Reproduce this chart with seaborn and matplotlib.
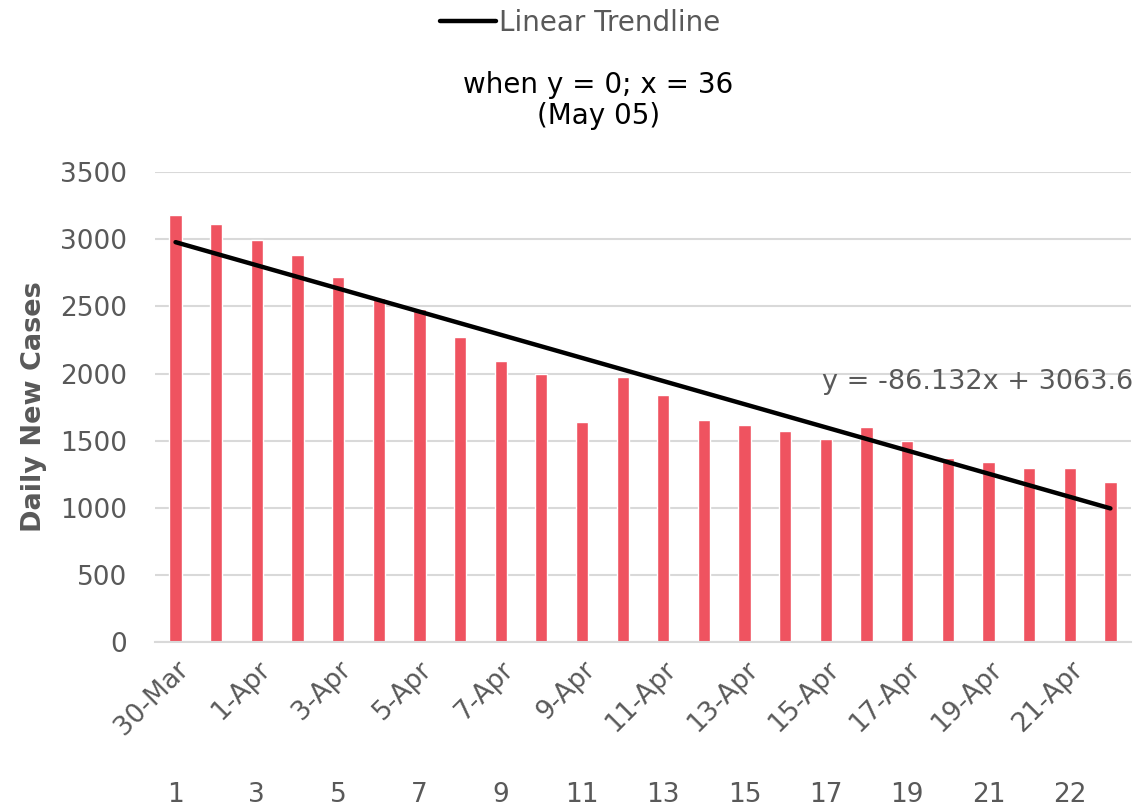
import pandas as pd
import seaborn as sns
import matplotlib.pyplot as plt
from matplotlib.transforms import blended_transform_factory

dates = ['30-Mar', '31-Mar', '1-Apr', '2-Apr', '3-Apr', '4-Apr', '5-Apr', '6-Apr',
         '7-Apr', '8-Apr', '9-Apr', '10-Apr', '11-Apr', '12-Apr', '13-Apr', '14-Apr',
         '15-Apr', '16-Apr', '17-Apr', '18-Apr', '19-Apr', '20-Apr', '21-Apr', '22-Apr']
new_cases = [3180, 3110, 2990, 2880, 2720, 2565, 2480, 2275, 2093, 2000, 1638, 1975,
             1839, 1655, 1620, 1575, 1515, 1605, 1500, 1375, 1340, 1295, 1300, 1195]
day_labels = ['1', '3', '5', '7', '9', '11', '13', '15', '17', '19', '21', '22']

slope = -86.132
intercept = 3063.6


def main():
    df = pd.DataFrame({'Date': dates, 'Cases': new_cases})
    df['Trend'] = [slope * (i + 1) + intercept for i in range(len(df))]

    sns.set_theme(style='white')
    plt.rcParams['font.family'] = ['DejaVu Sans']
    gray = '#595959'

    fig = plt.figure(figsize=(11.33, 8.11), dpi=100)
    ax = fig.add_axes([0.137, 0.208, 0.861, 0.58])

    sns.barplot(x='Date', y='Cases', data=df, color='#EF5360', width=0.3,
                saturation=1, ax=ax, zorder=2)
    line, = ax.plot(range(len(df)), df['Trend'], color='black', lw=3.2,
                    solid_capstyle='round', zorder=3, label='Linear Trendline')

    ax.set_xlim(-0.5, len(df) - 0.5)
    ax.set_ylim(0, 3500)
    ax.set_yticks(range(0, 3501, 500))
    ax.yaxis.grid(True, color='#d9d9d9', lw=1.5)
    ax.set_axisbelow(True)
    for s in ['top', 'right', 'left']:
        ax.spines[s].set_visible(False)
    ax.spines['bottom'].set_color('#d9d9d9')
    ax.spines['bottom'].set_linewidth(1.5)

    ax.set_xticks(range(0, len(df), 2))
    ax.set_xticklabels(dates[::2], rotation=45, ha='right', rotation_mode='anchor')
    ax.tick_params(axis='both', colors=gray, labelsize=19, length=0)
    ax.tick_params(axis='x', pad=10)
    ax.tick_params(axis='y', pad=20)
    for lab in ax.get_xticklabels() + ax.get_yticklabels():
        lab.set_color(gray)

    ax.set_xlabel('')
    ax.set_ylabel('Daily New Cases', fontsize=19.5, fontweight='bold', color=gray, labelpad=10)

    trans = blended_transform_factory(ax.transData, fig.transFigure)
    for i, lab in enumerate(day_labels):
        ax.text(i * 2, 0.02, lab, transform=trans, ha='center', va='center',
                fontsize=19, color=gray)

    fig.text(0.528, 0.876, 'when y = 0; x = 36\n(May 05)', ha='center', va='center',
             fontsize=20, color='black', linespacing=1.15)
    ax.text(len(df) - 0.45, 1940, 'y = -86.132x + 3063.6', ha='right', va='center',
            fontsize=19.5, color=gray)

    fig.legend(handles=[line], loc='center', bbox_to_anchor=(0.512, 0.972), frameon=False,
               fontsize=20, labelcolor=gray, handlelength=2.0, handletextpad=0.1)

    plt.savefig('out.png', dpi=100)


if __name__ == "__main__":
    main()
